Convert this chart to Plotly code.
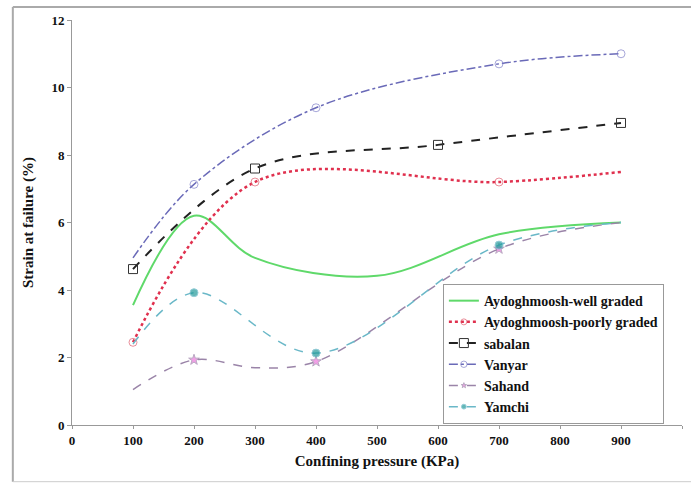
import plotly.graph_objects as go

# Data
well_x = [100, 200, 300, 500, 700, 900]
well_y = [3.55, 6.2, 4.95, 4.42, 5.65, 6.0]

poor_x = [100, 300, 700, 900]
poor_y = [2.45, 7.2, 7.2, 7.5]

sabalan_x = [100, 300, 600, 900]
sabalan_y = [4.62, 7.6, 8.3, 8.95]

vanyar_x = [100, 200, 400, 700, 900]
vanyar_y = [4.95, 7.13, 9.4, 10.7, 11.0]

sahand_x = [100, 200, 300, 400, 700, 900]
sahand_y = [1.05, 1.93, 1.7, 1.88, 5.22, 6.0]

yamchi_x = [100, 200, 400, 700, 900]
yamchi_y = [2.4, 3.92, 2.13, 5.33, 6.0]

x_ticks = [0, 100, 200, 300, 400, 500, 600, 700, 800, 900, 1000]
x_tick_text = ["0", "100", "200", "300", "400", "500", "600", "700", "800", "900", "100"]
y_ticks = [0, 2, 4, 6, 8, 10, 12]

FONT = "Liberation Serif, Times New Roman, Times, serif"


def msize(xs, shown, size):
    return [size if x in shown else 0 for x in xs]


fig = go.Figure()

fig.add_trace(go.Scatter(
    x=well_x, y=well_y, name="Aydoghmoosh-well graded", mode="lines",
    line=dict(color="#5fd96a", width=2, shape="spline", smoothing=1.0)))
fig.add_trace(go.Scatter(
    x=poor_x, y=poor_y, name="Aydoghmoosh-poorly graded", mode="lines+markers",
    line=dict(color="#e0304e", width=2.5, dash="dot", shape="spline", smoothing=1.0),
    marker=dict(symbol="circle-open", size=msize(poor_x, [100, 300, 700], 8),
                color="#e06070", line=dict(width=1))))
fig.add_trace(go.Scatter(
    x=sabalan_x, y=sabalan_y, name="sabalan", mode="lines+markers",
    line=dict(color="#222222", width=2, dash="dash", shape="spline", smoothing=1.0),
    marker=dict(symbol="square-open", size=9, color="#333333", line=dict(width=1))))
fig.add_trace(go.Scatter(
    x=vanyar_x, y=vanyar_y, name="Vanyar", mode="lines+markers",
    line=dict(color="#6a6ab8", width=1.5, dash="dashdot", shape="spline", smoothing=1.0),
    marker=dict(symbol="circle-open", size=msize(vanyar_x, [200, 400, 700, 900], 8),
                color="#8080c8", line=dict(width=1))))
fig.add_trace(go.Scatter(
    x=sahand_x, y=sahand_y, name="Sahand", mode="lines+markers",
    line=dict(color="#9a84a8", width=1.5, dash="dash", shape="spline", smoothing=1.0),
    marker=dict(symbol="star", size=msize(sahand_x, [200, 400, 700], 8), color="#ee77dd")))
fig.add_trace(go.Scatter(
    x=yamchi_x, y=yamchi_y, name="Yamchi", mode="lines+markers",
    line=dict(color="#6ab8c8", width=1.5, dash="dash", shape="spline", smoothing=1.0),
    marker=dict(symbol="circle", size=msize(yamchi_x, [200, 400, 700], 8), color="#229a9a")))

fig.update_layout(
    width=691, height=483,
    margin=dict(l=72, r=9, t=20, b=58),
    paper_bgcolor="white", plot_bgcolor="white",
    font=dict(family=FONT, size=12, color="#111111"),
    showlegend=True,
    legend=dict(
        x=0.608, y=0.348, xanchor="left", yanchor="top",
        bgcolor="white", bordercolor="#999999", borderwidth=1,
        font=dict(family=FONT, size=14, color="#111111", weight="bold"),
        tracegroupgap=0, itemwidth=30),
    xaxis=dict(
        range=[0, 1000], tickvals=x_ticks, ticktext=x_tick_text,
        showgrid=False, zeroline=False, showline=True, linecolor="#999999", linewidth=1,
        ticks="outside", ticklen=3, tickcolor="#999999",
        tickfont=dict(family=FONT, size=13, weight="bold"),
        title=dict(text="<b>Confining pressure (KPa)</b>", font=dict(family=FONT, size=15), standoff=8)),
    yaxis=dict(
        range=[0, 12], tickvals=y_ticks,
        showgrid=False, zeroline=False, showline=True, linecolor="#999999", linewidth=1,
        ticks="outside", ticklen=4, tickcolor="#999999",
        tickfont=dict(family=FONT, size=13, weight="bold"),
        title=dict(text="<b>Strain at failure (%)</b>", font=dict(family=FONT, size=15), standoff=14)),
    shapes=[
        dict(type="line", xref="paper", yref="paper", x0=-0.097, x1=-0.097, y0=-0.14, y1=1.032,
             line=dict(color="#aaaaaa", width=2)),
        dict(type="line", xref="paper", yref="paper", x0=-0.097, x1=1.02, y0=1.032, y1=1.032,
             line=dict(color="#aaaaaa", width=2)),
        dict(type="line", xref="paper", yref="paper", x0=-0.097, x1=1.02, y0=-0.14, y1=-0.14,
             line=dict(color="#cccccc", width=1)),
    ],
)

fig.write_html("out.html")
